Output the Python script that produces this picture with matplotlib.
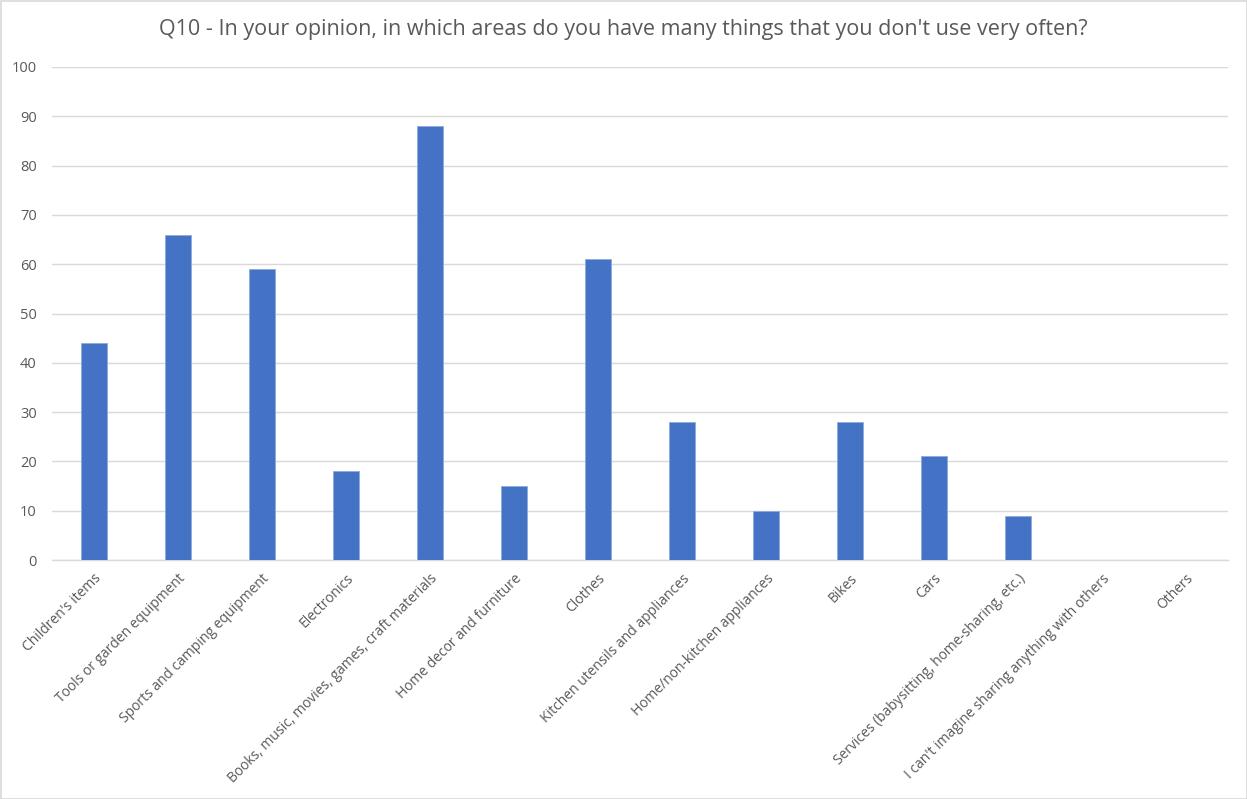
import matplotlib
matplotlib.use("Agg")
import matplotlib.pyplot as plt
from matplotlib.patches import Rectangle

categories = ["Children's items", "Tools or garden equipment", "Sports and camping equipment",
              "Electronics", "Books, music, movies, games, craft materials", "Home decor and furniture",
              "Clothes", "Kitchen utensils and appliances", "Home/non-kitchen appliances", "Bikes",
              "Cars", "Services (babysitting, home-sharing, etc.)",
              "I can't imagine sharing anything with others", "Others"]
values = [44, 66, 59, 18, 88, 15, 61, 28, 10, 28, 21, 9, 0, 0]
yticks = [0, 10, 20, 30, 40, 50, 60, 70, 80, 90, 100]
title = "Q10 - In your opinion, in which areas do you have many things that you don't use very often?"

plt.rcParams['font.family'] = ['Open Sans', 'DejaVu Sans']

fig = plt.figure(figsize=(12.47, 7.99), dpi=100)
ax = fig.add_axes([52/1247, 1-560/799, (1228-52)/1247, (560-67)/799])

x = list(range(len(categories)))
ax.bar(x, values, width=0.32, color='#4472C4', edgecolor='#8FAADC', linewidth=0.6, zorder=3)

ax.set_xlim(-0.5, len(categories)-0.5)
ax.set_ylim(0, 100)
ax.set_yticks(yticks)
ax.set_yticklabels([str(t) for t in yticks], fontsize=10.5, color='#595959')
ax.set_xticks(x)
ax.set_xticklabels(categories, rotation=45, ha='right', rotation_mode='anchor',
                   fontsize=10, color='#595959')
ax.tick_params(axis='both', length=0)
ax.tick_params(axis='y', pad=11)
ax.tick_params(axis='x', pad=8)
ax.grid(axis='y', color='#D9D9D9', linewidth=1, zorder=0)
for s in ['top', 'right', 'left']:
    ax.spines[s].set_visible(False)
ax.spines['bottom'].set_color('#D9D9D9')
ax.spines['bottom'].set_linewidth(1)

fig.text(0.5, 1-30/799, title, ha='center', va='center', fontsize=15.5, color='#595959')

fig.patches.append(Rectangle((0.5/1247, 0.5/799), 1-1/1247, 1-1/799, transform=fig.transFigure,
                             fill=False, edgecolor='#D9D9D9', linewidth=1.2))

fig.savefig('out.png', dpi=100)
